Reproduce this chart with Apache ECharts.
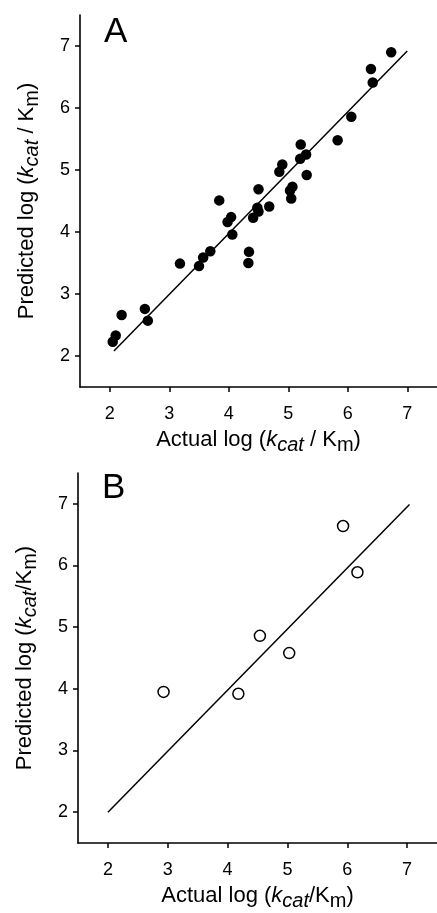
<!DOCTYPE html>
<html>
<head>
<meta charset="utf-8">
<script src="https://cdn.jsdelivr.net/npm/echarts@6/dist/echarts.min.js"></script>
<style>html,body{margin:0;padding:0;background:#fff;}#c{width:437px;height:913px;}</style>
</head>
<body>
<div id="c"></div>
<script>
// Panel A data (filled circles)
const actualA = [6.73, 6.39, 6.42, 6.06, 5.83, 5.21, 5.20, 5.30, 5.31, 4.90, 4.85, 4.50, 5.07, 5.03, 5.05, 3.84,
  4.48, 4.50, 4.68, 4.41, 4.04, 3.98, 4.06, 4.34, 4.33, 3.69, 3.57, 3.50, 3.18, 2.59, 2.64, 2.20, 2.10, 2.05];
const predictedA = [6.90, 6.63, 6.41, 5.86, 5.48, 5.41, 5.18, 5.25, 4.92, 5.09, 4.97, 4.69, 4.73, 4.67, 4.54, 4.51,
  4.39, 4.33, 4.41, 4.23, 4.24, 4.16, 3.96, 3.68, 3.50, 3.69, 3.59, 3.45, 3.49, 2.76, 2.57, 2.66, 2.33, 2.23];
const fitA_x = [2.07, 7.0];
const fitA_y = [2.08, 6.92];

// Panel B data (open circles)
const actualB = [5.93, 6.17, 4.54, 5.03, 4.18, 2.93];
const predictedB = [6.64, 5.89, 4.86, 4.58, 3.92, 3.95];
const fitB_x = [2.0, 7.04];
const fitB_y = [2.0, 6.99];

const tickValues = [2, 3, 4, 5, 6, 7];
const panelLetters = ['A', 'B'];

const FONT = '"Liberation Sans", Arial, Helvetica, sans-serif';
const chart = echarts.init(document.getElementById('c'), null, {renderer: 'canvas'});

const rich = {
  n: {fontSize: 22, fontFamily: FONT, color: '#000', lineHeight: 30},
  i: {fontSize: 22, fontFamily: FONT, color: '#000', fontStyle: 'italic', lineHeight: 30},
  si: {fontSize: 20, fontFamily: FONT, color: '#000', fontStyle: 'italic', lineHeight: 16, verticalAlign: 'bottom'},
  s: {fontSize: 20, fontFamily: FONT, color: '#000', lineHeight: 16, verticalAlign: 'bottom'}
};

function axisCommon() {
  return {
    type: 'value', min: 1.5, max: 7.5,
    splitLine: {show: false},
    axisLine: {show: true, onZero: false, lineStyle: {color: '#000', width: 1.6}},
    axisTick: {show: true, inside: false, length: 5, customValues: tickValues, lineStyle: {color: '#000', width: 1.5}},
    axisLabel: {show: true, customValues: tickValues, fontSize: 18, fontFamily: FONT, color: '#000'},
    nameLocation: 'middle',
    nameTextStyle: {rich: rich}
  };
}

function xAx(gi, name) {
  const a = axisCommon();
  a.gridIndex = gi; a.name = name; a.nameGap = 38;
  a.axisLabel.margin = 18;
  return a;
}
function yAx(gi, name) {
  const a = axisCommon();
  a.gridIndex = gi; a.name = name; a.nameGap = 38;
  a.axisLabel.margin = 10;
  return a;
}

const pair = (xs, ys) => xs.map((x, i) => [x, ys[i]]);

chart.setOption({
  animation: false,
  backgroundColor: '#fff',
  grid: [
    {left: 80, top: 15, right: -11, bottom: 526, containLabel: false},
    {left: 78, top: 473, right: -13, bottom: 70, containLabel: false}
  ],
  xAxis: [
    xAx(0, '{n|Actual log (}{i|k}{si|cat}{n| / K}{s|m}{n|)}'),
    xAx(1, '{n|Actual log (}{i|k}{si|cat}{n|/K}{s|m}{n|)}')
  ],
  yAxis: [
    yAx(0, '{n|Predicted log (}{i|k}{si|cat}{n| / K}{s|m}{n|)}'),
    yAx(1, '{n|Predicted log (}{i|k}{si|cat}{n|/K}{s|m}{n|)}')
  ],
  graphic: [
    {type: 'text', left: 104, top: 15, style: {text: panelLetters[0], fontSize: 35, fontFamily: FONT, fill: '#000'}},
    {type: 'text', left: 102, top: 471, style: {text: panelLetters[1], fontSize: 35, fontFamily: FONT, fill: '#000'}}
  ],
  series: [
    {type: 'line', xAxisIndex: 0, yAxisIndex: 0, data: pair(fitA_x, fitA_y), showSymbol: false, symbol: 'none',
     lineStyle: {color: '#000', width: 1.5}, z: 2},
    {type: 'scatter', xAxisIndex: 0, yAxisIndex: 0, data: pair(actualA, predictedA), symbol: 'circle', symbolSize: 10.5,
     itemStyle: {color: '#000', opacity: 1}, z: 3},
    {type: 'line', xAxisIndex: 1, yAxisIndex: 1, data: pair(fitB_x, fitB_y), showSymbol: false, symbol: 'none',
     lineStyle: {color: '#000', width: 1.5}, z: 2},
    {type: 'scatter', xAxisIndex: 1, yAxisIndex: 1, data: pair(actualB, predictedB), symbol: 'circle', symbolSize: 11,
     itemStyle: {color: '#fff', borderColor: '#000', borderWidth: 1.5, opacity: 1}, z: 3}
  ]
});
</script>
</body>
</html>
